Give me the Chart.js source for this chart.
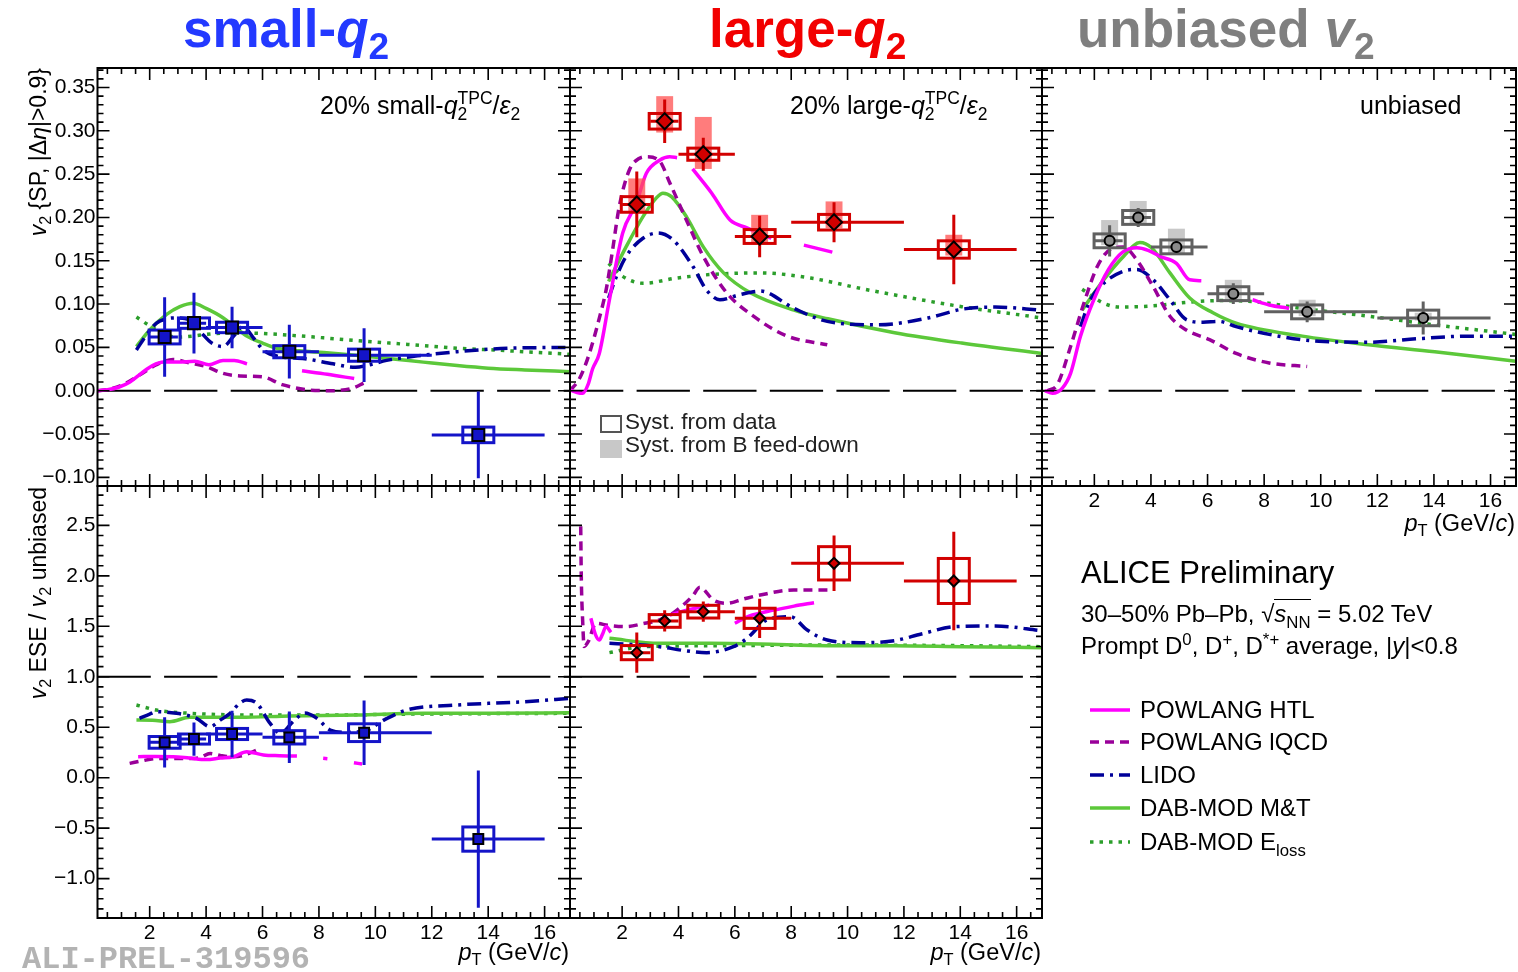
<!DOCTYPE html>
<html>
<head>
<meta charset="utf-8">
<script src="https://cdn.jsdelivr.net/npm/chart.js@4.4.1/dist/chart.umd.min.js"></script>
<style>
body { margin: 0; background: #fff; }
#page { position: relative; width: 1518px; height: 972px; overflow: hidden; background: #fff;
        font-family: "Liberation Sans", Arial, Helvetica, sans-serif; color: #000; }
#page canvas { position: absolute; left: 0; top: 0; }
.t { position: absolute; white-space: nowrap; line-height: 1; }
.ttl { font-weight: bold; font-size: 53px; }
.sb { font-size: 0.7em; position: relative; top: 0.33em; }
.sp { font-size: 0.7em; position: relative; top: -0.55em; }
.rot { transform-origin: 0 0; transform: rotate(-90deg); width: 300px; text-align: right; font-size: 23px; line-height: 24px; }
.ov { border-top: 1.5px solid #000; }
.box { position: absolute; box-sizing: border-box; }
</style>
</head>
<body>
<div id="page">
  <canvas id="p1" width="1518" height="972"></canvas>
  <canvas id="p2" width="1518" height="972"></canvas>
  <canvas id="p3" width="1518" height="972"></canvas>
  <canvas id="p4" width="1518" height="972"></canvas>
  <canvas id="p5" width="1518" height="972"></canvas>

  <div class="t ttl" style="left:183px;top:2px;color:#2339ff">small-<i>q</i><span class="sb">2</span></div>
  <div class="t ttl" style="left:709px;top:2px;color:#f20000">large-<i>q</i><span class="sb">2</span></div>
  <div class="t ttl" style="left:1077px;top:2px;color:#7f7f7f">unbiased <i>v</i><span class="sb">2</span></div>

  <div class="t" style="left:320px;top:93px;font-size:25px">20% small-<i>q</i><span class="sb">2</span><span class="sp" style="margin-left:-0.556em">TPC</span>/<i>ε</i><span class="sb">2</span></div>
  <div class="t" style="left:790px;top:93px;font-size:25px">20% large-<i>q</i><span class="sb">2</span><span class="sp" style="margin-left:-0.556em">TPC</span>/<i>ε</i><span class="sb">2</span></div>
  <div class="t" style="left:1360px;top:93px;font-size:25px">unbiased</div>

  <div class="box" style="left:600px;top:415px;width:22px;height:18px;border:2.5px solid #555"></div>
  <div class="box" style="left:600px;top:440px;width:22px;height:18px;background:#c8c8c8"></div>
  <div class="t" style="left:625px;top:411px;font-size:22.5px;color:#222">Syst. from data</div>
  <div class="t" style="left:625px;top:434px;font-size:22.5px;color:#222">Syst. from B feed-down</div>

  <div class="t rot" style="left:26px;top:368px"><i>v</i><span class="sb">2</span> {SP, |Δ<i>η</i>|&gt;0.9}</div>
  <div class="t rot" style="left:26px;top:787px"><i>v</i><span class="sb">2</span> ESE / <i>v</i><span class="sb">2</span> unbiased</div>

  <div class="t" style="right:949px;top:941px;font-size:23.5px"><i>p</i><span class="sb">T</span> (GeV/<i>c</i>)</div>
  <div class="t" style="right:477px;top:941px;font-size:23.5px"><i>p</i><span class="sb">T</span> (GeV/<i>c</i>)</div>
  <div class="t" style="right:3px;top:512px;font-size:23.5px"><i>p</i><span class="sb">T</span> (GeV/<i>c</i>)</div>

  <div class="t" style="left:1081px;top:557px;font-size:31px">ALICE Preliminary</div>
  <div class="t" style="left:1081px;top:602px;font-size:24px">30–50% Pb–Pb, √<span class="ov"><i>s</i><span class="sb">NN</span></span> = 5.02 TeV</div>
  <div class="t" style="left:1081px;top:634px;font-size:24px">Prompt D<span class="sp">0</span>, D<span class="sp">+</span>, D<span class="sp">*+</span> average, |<i>y</i>|&lt;0.8</div>

  <div class="t" style="left:1140px;top:698px;font-size:24px">POWLANG HTL</div>
  <div class="t" style="left:1140px;top:730px;font-size:24px">POWLANG lQCD</div>
  <div class="t" style="left:1140px;top:763px;font-size:24px">LIDO</div>
  <div class="t" style="left:1140px;top:796px;font-size:24px">DAB-MOD M&amp;T</div>
  <div class="t" style="left:1140px;top:830px;font-size:24px">DAB-MOD E<span class="sb">loss</span></div>

  <div class="t" style="left:22px;top:944px;font-size:32px;font-weight:bold;color:#b3b3b3;font-family:'Liberation Mono',monospace">ALI-PREL-319596</div>
</div>

<script>
// ---- measured D-meson points (pT bins 2-3, 3-4, 4-6, 6-8, 8-12, 12-16 GeV/c)
var ptBinLo = [2, 3, 4, 6, 8, 12];
var ptBinHi = [3, 4, 6, 8, 12, 16];

var ptSmall = [2.53, 3.57, 4.92, 6.95, 9.6, 13.65];
var v2Small = [0.062, 0.078, 0.073, 0.045, 0.041, -0.051];
var v2SmallStat = [0.046, 0.035, 0.024, 0.031, 0.031, 0.050];
var v2SmallSyst = [0.008, 0.006, 0.006, 0.007, 0.007, 0.009];

var ptLarge = [2.52, 3.51, 4.88, 6.88, 9.52, 13.77];
var v2Large = [0.215, 0.311, 0.273, 0.178, 0.1945, 0.163];
var v2LargeStat = [0.038, 0.025, 0.019, 0.024, 0.023, 0.040];
var v2LargeSyst = [0.009, 0.009, 0.007, 0.008, 0.009, 0.010];
var v2LargeFdUp = [0.030, 0.029, 0.043, 0.025, 0.024, 0.017];
var v2LargeFdDn = [0.010, 0.013, 0.017, 0.008, 0.007, 0.007];

var ptUnb = [2.54, 3.55, 4.9, 6.91, 9.52, 13.62];
var v2Unb = [0.173, 0.200, 0.166, 0.112, 0.091, 0.084];
var v2UnbStat = [0.018, 0.011, 0.009, 0.012, 0.012, 0.019];
var v2UnbSyst = [0.008, 0.008, 0.008, 0.008, 0.008, 0.009];
var v2UnbFdUp = [0.024, 0.019, 0.021, 0.016, 0.014, 0.006];
var v2UnbFdDn = [0.005, 0.007, 0.008, 0.007, 0.005, 0.003];

var ratioSmall = [0.35, 0.383, 0.433, 0.40, 0.446, -0.608];
var ratioSmallStat = [0.25, 0.165, 0.23, 0.255, 0.32, 0.68];
var ratioSmallSyst = [0.058, 0.05, 0.055, 0.066, 0.088, 0.12];

var ratioLarge = [1.239, 1.553, 1.645, 1.579, 2.124, 1.949];
var ratioLargeStat = [0.2, 0.105, 0.1, 0.195, 0.275, 0.487];
var ratioLargeSyst = [0.07, 0.063, 0.063, 0.1, 0.165, 0.223];

// ---- model curves [pT, value]; [pT, null] = gap
var htlSmall = [[0.15,0.0],[0.5,0.001],[0.9,0.004],[1.3,0.010],[1.7,0.020],[2.1,0.029],[2.5,0.033],[3.0,0.033],[3.6,0.034],[4.1,0.030],[4.6,0.035],[5.0,0.035],[5.45,0.031],[6.4,null],[7.4,0.023],[8.3,0.019],[9.25,0.014]];
var lqcdSmall = [[0.15,0.0],[0.6,0.002],[1.05,0.007],[1.64,0.018],[2.24,0.030],[2.83,0.036],[3.42,0.032],[4.0,0.028],[4.6,0.020],[5.2,0.017],[6.0,0.016],[6.7,0.007],[7.6,0.001],[8.4,0.0],[9.2,0.003],[9.6,0.009]];
var lidoSmall = [[1.53,0.047],[1.9,0.065],[2.24,0.078],[2.6,0.083],[2.95,0.084],[3.4,0.082],[3.8,0.068],[4.2,0.055],[4.6,0.051],[5.0,0.064],[5.3,0.074],[5.7,0.060],[6.03,0.047],[6.5,0.040],[7.5,0.037],[8.5,0.031],[9.3,0.027],[9.8,0.030],[10.4,0.035],[11.7,0.041],[12.9,0.045],[14.7,0.049],[16.9,0.050]];
var mtSmall = [[1.53,0.051],[2.0,0.070],[2.6,0.088],[3.07,0.097],[3.54,0.101],[4.0,0.095],[4.61,0.084],[5.0,0.074],[5.44,0.063],[6.0,0.055],[6.51,0.049],[7.3,0.046],[8.17,0.044],[9.3,0.041],[10.54,0.037],[11.7,0.033],[12.9,0.029],[14.0,0.026],[15.3,0.024],[16.9,0.022]];
var elossSmall = [[1.53,0.085],[2.0,0.075],[2.6,0.064],[3.0,0.062],[3.5,0.063],[4.0,0.065],[5.0,0.067],[6.0,0.066],[7.0,0.064],[8.17,0.061],[9.3,0.058],[10.5,0.055],[11.7,0.052],[12.9,0.049],[14.2,0.047],[15.3,0.045],[16.9,0.042]];

var htlLarge = [[0.15,0.001],[0.4,-0.002],[0.6,-0.003],[0.8,0.008],[0.95,0.025],[1.19,0.043],[1.55,0.105],[2.02,0.182],[2.5,0.216],[2.86,0.251],[3.33,0.266],[3.69,0.270],[3.95,0.269],[4.25,null],[4.5,0.256],[5.18,0.228],[5.83,0.197],[6.43,0.188],[7.0,0.180],[7.3,0.176],[7.9,null],[8.45,0.168],[9.46,0.160]];
var lqcdLarge = [[0.15,0.0],[0.47,0.013],[0.7,0.030],[0.95,0.055],[1.2,0.085],[1.43,0.116],[1.65,0.160],[1.9,0.213],[2.26,0.255],[2.6,0.268],[2.86,0.270],[3.33,0.265],[3.69,0.240],[4.28,0.197],[4.88,0.155],[5.71,0.113],[6.66,0.086],[7.86,0.063],[9.28,0.053]];
var lidoLarge = [[1.52,0.107],[1.8,0.132],[2.14,0.155],[2.74,0.176],[3.27,0.182],[3.81,0.174],[4.52,0.143],[5.0,0.116],[5.47,0.105],[6.19,0.111],[6.9,0.115],[8.1,0.095],[9.28,0.080],[11.07,0.076],[12.86,0.084],[14.05,0.094],[15.24,0.0965],[16.9,0.093]];
var mtLarge = [[1.52,0.126],[2.14,0.166],[2.74,0.201],[3.2,0.222],[3.45,0.228],[3.75,0.224],[4.28,0.201],[4.88,0.166],[5.6,0.136],[6.55,0.113],[8.1,0.093],[9.3,0.083],[11.67,0.067],[14.05,0.055],[16.9,0.043]];
var elossLarge = [[1.52,0.147],[2.02,0.132],[2.74,0.124],[3.93,0.130],[5.1,0.134],[6.9,0.136],[8.69,0.130],[10.47,0.118],[12.26,0.107],[14.05,0.097],[16.9,0.084]];

var htlUnb = [[0.25,0.0],[0.52,-0.003],[0.87,0.003],[1.16,0.020],[1.51,0.063],[1.98,0.105],[2.5,0.140],[3.0,0.160],[3.5,0.165],[3.9,0.162],[4.32,0.155],[4.9,0.147],[5.37,0.128],[5.78,0.127],[6.7,null],[7.59,0.105],[8.18,0.099],[8.88,0.095]];
var lqcdUnb = [[0.34,0.0],[0.69,0.007],[1.16,0.051],[1.63,0.101],[2.1,0.143],[2.56,0.163],[3.03,0.166],[3.5,0.151],[4.08,0.120],[4.67,0.086],[5.25,0.070],[6.07,0.059],[7.01,0.043],[8.18,0.032],[9.52,0.028]];
var lidoUnb = [[1.51,0.074],[1.86,0.105],[2.33,0.124],[3.03,0.138],[3.5,0.140],[4.08,0.128],[4.67,0.105],[5.25,0.082],[5.84,0.079],[6.4,0.080],[7.01,0.074],[8.18,0.065],[9.93,0.057],[11.69,0.056],[13.44,0.060],[15.2,0.063],[16.89,0.063]];
var mtUnb = [[1.57,0.093],[2.33,0.128],[3.03,0.155],[3.61,0.171],[4.02,0.165],[4.67,0.136],[5.37,0.107],[6.19,0.090],[7.01,0.078],[9.35,0.063],[11.69,0.053],[14.03,0.045],[16.89,0.034]];
var elossUnb = [[1.57,0.117],[2.33,0.101],[2.91,0.0965],[4.08,0.098],[5.25,0.102],[6.42,0.104],[7.59,0.103],[9.35,0.095],[11.69,0.086],[14.03,0.076],[16.89,0.065]];

var htlRatioS = [[1.59,0.208],[2.2,0.21],[2.83,0.208],[3.4,0.195],[4.0,0.18],[4.5,0.195],[4.97,0.208],[5.44,0.258],[6.03,0.225],[6.6,0.218],[7.22,0.215],[7.7,null],[8.15,0.192],[8.3,0.188],[8.8,null],[9.24,0.149],[9.53,0.135]];
var lqcdRatioS = [[1.29,0.142],[1.7,0.165],[2.24,0.19],[2.8,0.19],[3.42,0.19],[3.8,0.2],[4.14,0.24],[4.5,0.22],[4.85,0.208],[5.3,0.22],[5.8,0.274]];
var lidoRatioS = [[1.64,0.588],[2.0,0.63],[2.24,0.654],[2.95,0.638],[3.3,0.62],[3.66,0.588],[4.14,0.505],[4.5,0.57],[4.85,0.638],[5.2,0.74],[5.44,0.77],[5.8,0.737],[6.27,0.538],[6.63,0.44],[7.1,0.56],[7.5,0.64],[7.93,0.588],[8.4,0.472],[9.0,0.45],[9.6,0.46],[10.3,0.571],[11.1,0.67],[12.9,0.72],[15.3,0.753],[16.9,0.786]];
var mtRatioS = [[1.53,0.571],[2.1,0.57],[2.71,0.555],[3.42,0.598],[5.2,0.598],[6.98,0.611],[9.35,0.621],[11.7,0.638],[14.1,0.638],[16.9,0.644]];
var elossRatioS = [[1.53,0.72],[2.24,0.67],[3.42,0.638],[5.8,0.621],[8.17,0.621],[11.7,0.631],[16.9,0.638]];

var htlRatioL = [[0.89,1.579],[1.05,1.42],[1.19,1.364],[1.3,1.42],[1.43,1.497],[1.6,1.44],[2.6,null],[3.69,1.612],[4.3,1.66],[5.1,1.711],[5.5,null],[6.0,1.53],[6.5,1.6],[7.38,1.66],[8.1,1.70],[8.81,1.734]];
var lqcdRatioL = [[0.53,2.49],[0.55,2.0],[0.6,1.55],[0.65,1.3],[0.8,1.35],[1.07,1.53],[1.5,1.51],[2.14,1.497],[2.8,1.53],[3.33,1.563],[3.9,1.65],[4.5,1.8],[4.76,1.886],[5.24,1.76],[5.71,1.728],[6.3,1.77],[6.9,1.81],[8.09,1.86],[9.4,1.86]];
var lidoRatioL = [[1.55,1.331],[2.4,1.32],[3.33,1.298],[4.2,1.26],[5.0,1.239],[5.95,1.298],[6.43,1.38],[7.14,1.563],[7.97,1.596],[8.57,1.463],[9.28,1.364],[10.47,1.338],[11.67,1.358],[12.62,1.424],[13.81,1.497],[15.24,1.503],[16.9,1.457]];
var mtRatioL = [[1.55,1.381],[3.33,1.331],[5.12,1.331],[6.9,1.325],[9.28,1.308],[11.67,1.308],[14.05,1.298],[16.9,1.288]];
var elossRatioL = [[1.55,1.239],[2.74,1.298],[5.71,1.308],[9.28,1.315],[14.05,1.308],[16.9,1.298]];

// ---- axes
var ptTicks = [2, 4, 6, 8, 10, 12, 14, 16];
var v2Ticks = [-0.10, -0.05, 0.00, 0.05, 0.10, 0.15, 0.20, 0.25, 0.30, 0.35];
var ratioTicks = [-1.0, -0.5, 0.0, 0.5, 1.0, 1.5, 2.0, 2.5];

var modelColors = ['#ff00ff', '#990099', '#000099', '#5cc83a', '#2b9e2b'];
var modelDash = [[], [9, 6], [14, 6, 3, 6], [], [3.5, 6]];
var legendRows = [710, 742, 775, 808, 842];

var blue = '#1414c8', red = '#d20000', gray = '#606060';
var W = 1518, H = 972, X_MIN = 0.15, X_MAX = 16.9;

function toXY(arr) {
    return arr.map(function (p) { return {x: p[0], y: p[1]}; });
}

function modelLines(curves) {
    return curves.map(function (c, i) {
        return {
            type: 'line', data: toXY(c), borderColor: modelColors[i], borderDash: modelDash[i],
            borderWidth: 3.5, pointRadius: 0, fill: false, spanGaps: false,
            cubicInterpolationMode: 'monotone', order: 5 + i
        };
    });
}

function tickRange(min, max, step) {
    var out = [];
    for (var k = Math.ceil(min / step - 1e-9); k * step <= max + 1e-9; k++) out.push(k * step);
    return out;
}

function fmt(v, d) {
    var s = Math.abs(v).toFixed(d);
    return (v < -1e-9 ? '\u2212' : '') + s;
}

var rootFrame = {
    id: 'rootFrame',
    beforeDatasetsDraw: function (chart, args, o) {
        var a = chart.chartArea, ctx = chart.ctx;
        var y = chart.scales.y.getPixelForValue(o.refY);
        ctx.save();
        ctx.strokeStyle = '#000';
        ctx.lineWidth = 2;
        ctx.setLineDash([53.3, 13.3]);
        ctx.beginPath();
        ctx.moveTo(a.left, y);
        ctx.lineTo(a.right, y);
        ctx.stroke();
        ctx.restore();
    },
    afterDraw: function (chart, args, o) {
        var a = chart.chartArea, ctx = chart.ctx, xs = chart.scales.x, ys = chart.scales.y;
        ctx.save();
        ctx.strokeStyle = '#000';
        ctx.lineWidth = 1.6;
        ctx.beginPath();
        var minorX = tickRange(xs.min, xs.max, 0.5);
        minorX.forEach(function (v) {
            var px = xs.getPixelForValue(v);
            var len = (Math.abs(v / 2 - Math.round(v / 2)) < 1e-6) ? 12 : 6;
            ctx.moveTo(px, a.bottom); ctx.lineTo(px, a.bottom - len);
            ctx.moveTo(px, a.top); ctx.lineTo(px, a.top + len);
        });
        var minorY = tickRange(ys.min, ys.max, o.yMinor);
        minorY.forEach(function (v) {
            var py = ys.getPixelForValue(v);
            var r = v / o.yMajor;
            var len = (Math.abs(r - Math.round(r)) < 1e-6) ? 12 : 6;
            ctx.moveTo(a.left, py); ctx.lineTo(a.left + len, py);
            ctx.moveTo(a.right, py); ctx.lineTo(a.right - len, py);
        });
        ctx.stroke();
        ctx.lineWidth = 2;
        ctx.strokeRect(a.left, a.top, a.right - a.left, a.bottom - a.top);

        ctx.fillStyle = '#000';
        ctx.font = '21px "Liberation Sans", Arial, sans-serif';
        if (o.xLabels) {
            ctx.textAlign = 'center';
            ctx.textBaseline = 'alphabetic';
            ptTicks.forEach(function (v) {
                ctx.fillText(String(v), xs.getPixelForValue(v), a.bottom + 21);
            });
        }
        if (o.yLabels) {
            ctx.textAlign = 'right';
            ctx.textBaseline = 'middle';
            o.yLabels.forEach(function (v) {
                ctx.fillText(fmt(v, o.yDigits), a.left - 2, ys.getPixelForValue(v));
            });
        }
        if (o.legend) {
            ctx.lineWidth = 3.5;
            modelColors.forEach(function (c, i) {
                ctx.strokeStyle = c;
                ctx.setLineDash(modelDash[i]);
                ctx.beginPath();
                ctx.moveTo(1090, legendRows[i]);
                ctx.lineTo(1130, legendRows[i]);
                ctx.stroke();
            });
        }
        ctx.restore();
    }
};

var errBars = {
    id: 'errBars',
    beforeDatasetDraw: function (chart, args, o) {
        if (args.index !== 0) return;
        var a = chart.chartArea, ctx = chart.ctx, xs = chart.scales.x, ys = chart.scales.y;
        ctx.save();
        ctx.beginPath();
        ctx.rect(a.left, a.top, a.right - a.left, a.bottom - a.top);
        ctx.clip();
        for (var i = 0; i < o.pt.length; i++) {
            var x = o.pt[i], y = o.val[i];
            if (o.fdUp) {
                ctx.fillStyle = o.fdColor;
                var fx0 = xs.getPixelForValue(x - 0.3), fx1 = xs.getPixelForValue(x + 0.3);
                var fy0 = ys.getPixelForValue(y + o.fdUp[i]), fy1 = ys.getPixelForValue(y - o.fdDn[i]);
                ctx.fillRect(fx0, fy0, fx1 - fx0, fy1 - fy0);
            }
            ctx.strokeStyle = o.color;
            ctx.lineWidth = 3;
            var bx0 = xs.getPixelForValue(x - 0.55), bx1 = xs.getPixelForValue(x + 0.55);
            var by0 = ys.getPixelForValue(y + o.syst[i]), by1 = ys.getPixelForValue(y - o.syst[i]);
            ctx.strokeRect(bx0, by0, bx1 - bx0, by1 - by0);
            var px = xs.getPixelForValue(x), py = ys.getPixelForValue(y);
            ctx.beginPath();
            ctx.moveTo(xs.getPixelForValue(o.lo[i]), py);
            ctx.lineTo(xs.getPixelForValue(o.hi[i]), py);
            ctx.moveTo(px, ys.getPixelForValue(y + o.stat[i]));
            ctx.lineTo(px, ys.getPixelForValue(y - o.stat[i]));
            ctx.stroke();
        }
        ctx.restore();
    }
};

function makePanel(id, frame, yMin, yMax, marker, curves, frameOpts, errOpts) {
    var pts = errOpts.pt.map(function (x, i) { return {x: x, y: errOpts.val[i]}; });
    var markerSet = {
        type: 'line', data: pts, showLine: false, order: 0,
        pointStyle: marker.style, pointRadius: marker.r, pointHoverRadius: marker.r,
        pointBackgroundColor: marker.fill, pointBorderColor: '#000', pointBorderWidth: 2
    };
    return new Chart(document.getElementById(id).getContext('2d'), {
        type: 'line',
        data: {datasets: [markerSet].concat(modelLines(curves))},
        options: {
            responsive: false,
            animation: false,
            devicePixelRatio: 1,
            layout: {autoPadding: false, padding: {left: frame[0], top: frame[1], right: W - frame[2], bottom: H - frame[3]}},
            scales: {
                x: {type: 'linear', min: X_MIN, max: X_MAX, display: false},
                y: {type: 'linear', min: yMin, max: yMax, display: false}
            },
            plugins: {
                legend: {display: false},
                tooltip: {enabled: false},
                rootFrame: frameOpts,
                errBars: errOpts
            }
        },
        plugins: [rootFrame, errBars]
    });
}

var V2_MIN = -0.11, V2_MAX = 0.3725, R_MIN = -1.39, R_MAX = 2.89;

makePanel('p1', [97.5, 68, 570, 486], V2_MIN, V2_MAX,
    {style: 'rect', r: 8.5, fill: blue},
    [htlSmall, lqcdSmall, lidoSmall, mtSmall, elossSmall],
    {refY: 0, yMajor: 0.05, yMinor: 0.01, yLabels: v2Ticks, yDigits: 2},
    {pt: ptSmall, lo: ptBinLo, hi: ptBinHi, val: v2Small, stat: v2SmallStat, syst: v2SmallSyst, color: blue});

makePanel('p2', [570, 68, 1042, 486], V2_MIN, V2_MAX,
    {style: 'rectRot', r: 8, fill: red},
    [htlLarge, lqcdLarge, lidoLarge, mtLarge, elossLarge],
    {refY: 0, yMajor: 0.05, yMinor: 0.01},
    {pt: ptLarge, lo: ptBinLo, hi: ptBinHi, val: v2Large, stat: v2LargeStat, syst: v2LargeSyst,
     fdUp: v2LargeFdUp, fdDn: v2LargeFdDn, fdColor: 'rgba(255,80,80,0.75)', color: red});

makePanel('p3', [1042, 68, 1516, 486], V2_MIN, V2_MAX,
    {style: 'circle', r: 5, fill: '#8a8a8a'},
    [htlUnb, lqcdUnb, lidoUnb, mtUnb, elossUnb],
    {refY: 0, yMajor: 0.05, yMinor: 0.01, xLabels: true, legend: true},
    {pt: ptUnb, lo: ptBinLo, hi: ptBinHi, val: v2Unb, stat: v2UnbStat, syst: v2UnbSyst,
     fdUp: v2UnbFdUp, fdDn: v2UnbFdDn, fdColor: 'rgba(190,190,190,0.85)', color: gray});

makePanel('p4', [97.5, 486, 570, 918], R_MIN, R_MAX,
    {style: 'rect', r: 7, fill: blue},
    [htlRatioS, lqcdRatioS, lidoRatioS, mtRatioS, elossRatioS],
    {refY: 1, yMajor: 0.5, yMinor: 0.1, yLabels: ratioTicks, yDigits: 1, xLabels: true},
    {pt: ptSmall, lo: ptBinLo, hi: ptBinHi, val: ratioSmall, stat: ratioSmallStat, syst: ratioSmallSyst, color: blue});

makePanel('p5', [570, 486, 1042, 918], R_MIN, R_MAX,
    {style: 'rectRot', r: 5.5, fill: red},
    [htlRatioL, lqcdRatioL, lidoRatioL, mtRatioL, elossRatioL],
    {refY: 1, yMajor: 0.5, yMinor: 0.1, xLabels: true},
    {pt: ptLarge, lo: ptBinLo, hi: ptBinHi, val: ratioLarge, stat: ratioLargeStat, syst: ratioLargeSyst, color: red});
</script>
</body>
</html>
